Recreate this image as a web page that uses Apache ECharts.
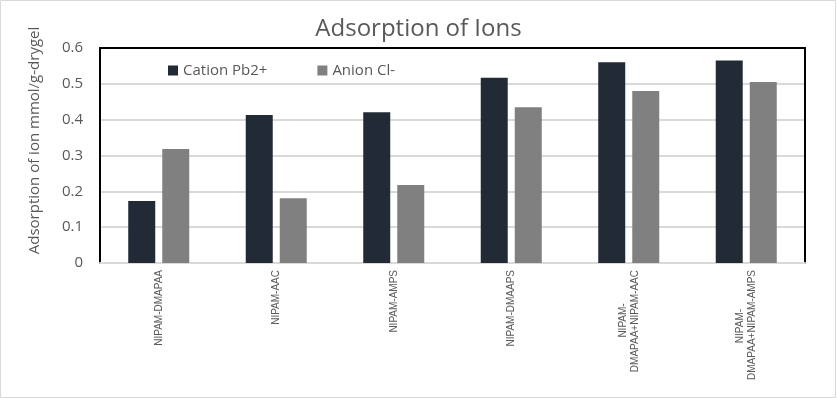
<!DOCTYPE html>
<html>
<head>
<meta charset="utf-8">
<script src="https://cdn.jsdelivr.net/npm/echarts@6/dist/echarts.min.js"></script>
<style>
html, body { margin: 0; padding: 0; background: #fff; }
#chart { width: 837px; height: 399px; }
</style>
</head>
<body>
<div id="chart"></div>
<script>
var categories = ['NIPAM-DMAPAA', 'NIPAM-AAC', 'NIPAM-AMPS', 'NIPAM-DMAAPS',
    'NIPAM-\nDMAPAA+NIPAM-AAC', 'NIPAM-\nDMAPAA+NIPAM-AMPS'];
var cation = [0.173, 0.413, 0.421, 0.517, 0.56, 0.565];
var anion = [0.318, 0.181, 0.218, 0.435, 0.48, 0.505];
var yTicks = [0, 0.1, 0.2, 0.3, 0.4, 0.5, 0.6];

var textColor = '#595959';
var font = 'Open Sans';

// two-line tick labels come out right aligned; add an invisible filler after the
// short line so it sits centred over the long one, like the original
var ctx = document.createElement('canvas').getContext('2d');
ctx.font = '10px "Liberation Sans"';
function centre_lines(v) {
    var lines = v.split('\n');
    if (lines.length < 2) return v;
    var long = Math.max.apply(null, lines.map(function (l) { return ctx.measureText(l).width }));
    var dot = ctx.measureText('.').width || 2.8;
    return lines.map(function (l) {
        var n = Math.round((long - ctx.measureText(l).width) / 2 / dot);
        return '{t|' + l + '}' + (n > 0 ? '{h|' + '.'.repeat(n) + '}' : '');
    }).join('\n');
}

chart = echarts.init(document.getElementById('chart'));
chart.setOption({
    animation: false,
    title: {
        text: 'Adsorption of Ions',
        left: 'center',
        top: 12,
        textStyle: { fontFamily: font, fontSize: 24, fontWeight: 'normal', color: textColor }
    },
    legend: {
        left: 163,
        top: 58,
        icon: 'rect',
        itemWidth: 10,
        itemHeight: 10,
        itemGap: 50,
        textStyle: { fontFamily: font, fontSize: 15, color: textColor }
    },
    grid: { left: 100, right: 32, top: 48, bottom: 136 },
    xAxis: [{
        type: 'category',
        data: categories,
        axisLine: { lineStyle: { color: '#d9d9d9', width: 2 } },
        axisTick: { show: false },
        axisLabel: {
            rotate: 90, interval: 0, margin: 7,
            fontFamily: 'Liberation Sans', fontSize: 10, color: textColor, lineHeight: 12,
            formatter: centre_lines,
            rich: {
                t: { fontFamily: 'Liberation Sans', fontSize: 10, color: textColor, lineHeight: 12 },
                h: { fontFamily: 'Liberation Sans', fontSize: 10, color: 'rgba(0,0,0,0)', lineHeight: 12 }
            }
        }
    }, {
        type: 'category',
        position: 'top',
        data: categories,
        axisLine: { onZero: false, lineStyle: { color: '#000', width: 2 } },
        axisTick: { show: false },
        axisLabel: { show: false }
    }],
    yAxis: [{
        type: 'value',
        min: yTicks[0],
        max: yTicks[yTicks.length - 1],
        interval: 0.1,
        name: 'Adsorption of ion mmol/g-drygel',
        nameLocation: 'middle',
        nameGap: 58,
        nameTextStyle: { fontFamily: font, fontSize: 15, color: textColor, padding: [0, 0, 0, 30] },
        axisLine: { show: true, onZero: false, lineStyle: { color: '#000', width: 2 } },
        axisTick: { show: false },
        axisLabel: {
            margin: 17, fontFamily: font, fontSize: 15, color: textColor,
            formatter: function (v) { return String(Math.round(v * 10) / 10); }
        },
        splitLine: { lineStyle: { color: '#d9d9d9', width: 2 } }
    }, {
        type: 'value',
        position: 'right',
        min: yTicks[0],
        max: yTicks[yTicks.length - 1],
        interval: 0.1,
        axisLine: { show: true, onZero: false, lineStyle: { color: '#000', width: 2 } },
        axisTick: { show: false },
        axisLabel: { show: false },
        splitLine: { show: false }
    }],
    series: [
        {
            name: 'Cation Pb2+',
            type: 'bar',
            data: cation,
            barWidth: 27,
            barGap: '26%',
            itemStyle: { color: '#222a35' }
        },
        {
            name: 'Anion Cl-',
            type: 'bar',
            data: anion,
            barWidth: 27,
            itemStyle: { color: '#808080' }
        }
    ],
    graphic: [{
        type: 'rect',
        shape: { x: 0.5, y: 0.5, width: 835, height: 397 },
        style: { fill: 'none', stroke: '#d9d9d9', lineWidth: 1 },
        silent: true
    }]
});
</script>
</body>
</html>
